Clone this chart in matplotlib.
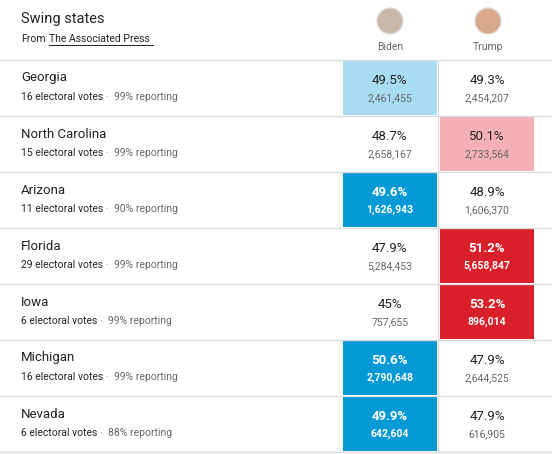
import matplotlib
matplotlib.use("Agg")
import matplotlib.pyplot as plt
from matplotlib.patches import Rectangle, Circle

states = ["Georgia", "North Carolina", "Arizona", "Florida", "Iowa", "Michigan", "Nevada"]
electoral = [16, 15, 11, 29, 6, 16, 6]
reporting = [99, 99, 90, 99, 99, 99, 88]
biden_pct = ["49.5%", "48.7%", "49.6%", "47.9%", "45%", "50.6%", "49.9%"]
biden_votes = ["2,461,455", "2,658,167", "1,626,943", "5,284,453", "757,655", "2,790,648", "642,604"]
trump_pct = ["49.3%", "50.1%", "48.9%", "51.2%", "53.2%", "47.9%", "47.9%"]
trump_votes = ["2,454,207", "2,733,564", "1,606,370", "5,658,847", "896,014", "2,644,525", "616,905"]
# status: B=Biden called, b=Biden leading, T=Trump called, t=Trump leading
status = ["b", "t", "B", "T", "T", "B", "B"]
candidates = ["Biden", "Trump"]

W, H = 552, 454
plt.rcParams['font.family'] = ['Roboto', 'DejaVu Sans']
fig = plt.figure(figsize=(W/100, H/100), dpi=100)
ax = fig.add_axes([0, 0, 1, 1])
ax.set_xlim(0, W); ax.set_ylim(H, 0); ax.axis("off")
renderer = fig.canvas.get_renderer()

fills = {"B": "#0398d6", "b": "#a8dcf2", "T": "#d81f2a", "t": "#f4b0b5"}
dark = "#222222"; grey = "#666666"
ax.text(21, 19, "Swing states", fontsize=10.5, color=dark, va="center")
ax.text(21, 39, "From", fontsize=7.5, color=dark, va="center")
ax.text(49, 39, "The Associated Press", fontsize=7.5, color=dark, va="center")
ax.plot([49, 153], [45, 45], color=dark, lw=0.7)
colx = [390, 488]
for cx, name, col in zip(colx, candidates, ["#c9b8a8", "#d9a88a"]):
    ax.add_patch(Circle((cx, 21), 13, facecolor=col, edgecolor="#dddddd", lw=1))
    ax.text(cx, 47, name, fontsize=7.5, color=grey, ha="center", va="center")

top, rh = 60, 56
ax.plot([0, W], [top, top], color="#dadce0", lw=1)
for i, s in enumerate(states):
    y0 = top + i*rh
    ax.plot([0, W], [y0+rh, y0+rh], color="#dadce0", lw=1)
    ax.plot([438, 438], [y0, y0+rh], color="#dadce0", lw=1)
    ax.text(21, y0+18, s, fontsize=9.5, color=dark, va="center")
    t = ax.text(21, y0+37, f"{electoral[i]} electoral votes", fontsize=7.5, color=dark, va="center")
    bb = t.get_window_extent(renderer)
    ax.text(bb.x1 + 3, y0+37, f"·  {reporting[i]}% reporting", fontsize=7.5, color=grey, va="center")
    for j, (pct, votes) in enumerate([(biden_pct[i], biden_votes[i]), (trump_pct[i], trump_votes[i])]):
        x0 = 343 if j == 0 else 440
        st = status[i]
        win = (j == 0 and st in "Bb") or (j == 1 and st in "Tt")
        called = win and st.isupper()
        if win:
            ax.add_patch(Rectangle((x0, y0+1), 94, rh-2, facecolor=fills[st], edgecolor="none"))
        c1 = "white" if called else dark
        c2 = "white" if called else grey
        fw = "bold" if called else "normal"
        ax.text(x0+47, y0+21, pct, fontsize=9.5, color=c1, ha="center", va="center", weight=fw)
        ax.text(x0+47, y0+38, votes, fontsize=7.5, color=c2, ha="center", va="center", weight=fw)

fig.savefig("out.png", dpi=100)
